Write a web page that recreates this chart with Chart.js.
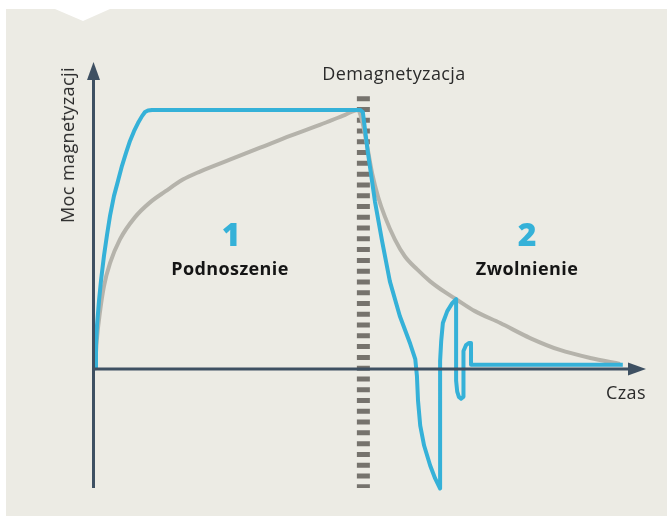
<!DOCTYPE html>
<html>
<head>
<meta charset="utf-8">
<script src="https://cdn.jsdelivr.net/npm/chart.js@4"></script>
<style>
  html, body { margin: 0; padding: 0; background: #fff; }
  #wrap { position: relative; width: 667px; height: 518px; overflow: hidden; }
  #panel {
    position: absolute; left: 6px; top: 9px; width: 661px; height: 507px;
    background: #ecebe4;
    clip-path: polygon(0 0, 49px 0, 77px 12px, 104px 0, 100% 0, 100% 100%, 0 100%);
  }
  canvas { position: absolute; left: 0; top: 0; }
  .lbl { position: absolute; white-space: nowrap; font-family: "Open Sans", sans-serif; color: #2a2a2a; }
  .axis { font-size: 18px; line-height: 18px; letter-spacing: 0.4px; }
  .phase { font-size: 18px; line-height: 18px; font-weight: 700; letter-spacing: 0.4px; color: #151515; transform: translateX(-50%); }
  .num { font-size: 32px; line-height: 32px; font-weight: 800; color: #35b1d8; transform: translateX(-50%); }
</style>
</head>
<body>
<div id="wrap">
  <div id="panel"></div>
  <canvas id="myChart" width="667" height="518"></canvas>
  <div class="lbl axis" style="left:394px; top:64px; transform:translateX(-50%);">Demagnetyzacja</div>
  <div class="lbl axis" style="left:67px; top:145px; transform:translate(-50%,-50%) rotate(-90deg);">Moc magnetyzacji</div>
  <div class="lbl axis" style="right:21px; top:383px;">Czas</div>
  <div class="lbl num" style="left:231px; top:218px;">1</div>
  <div class="lbl phase" style="left:230px; top:259px;">Podnoszenie</div>
  <div class="lbl num" style="left:527px; top:218px;">2</div>
  <div class="lbl phase" style="left:527px; top:259px;">Zwolnienie</div>
</div>
<script>
// magnetization during charge + release (blue), time 0..100, level 0..100
const pulseTime = [0.2, 0.36, 0.54, 0.91, 1.27, 1.81, 2.36, 2.9, 3.62, 4.35, 5.07, 5.8, 6.52, 7.25, 7.97, 8.7, 9.24, 9.78, 10.5,
  48.2, 48.7, 49.6, 50.9, 52.2, 53.6, 55.4, 57.3, 58.2, 58.5, 58.7, 59.1, 59.8, 60.9, 61.8, 62.7,
  62.7, 62.7, 62.9, 63.2, 64.0, 64.9, 65.6, 65.6, 65.8, 66.1, 66.5, 66.9, 66.9, 66.9, 67.0, 67.4, 67.9, 68.3, 68.3, 95.8];
const pulseValue = [0.2, 9, 16.7, 26.4, 34.1, 43.7, 51.8, 59.1, 66.8, 72.6, 78.4, 83.4, 88, 91.8, 94.9, 97.6, 99.2, 99.8, 100,
  100, 99.2, 83.8, 64.6, 49.2, 33.8, 20.4, 9.6, 3.8, -2.7, -12.3, -21.9, -29.6, -37.3, -42.3, -46.2,
  -4.6, 3.1, 10.8, 17.7, 22.3, 25.4, 26.9, -4.6, -8.8, -10.8, -11.5, -10.8, -6.5, 3.1, 6.9, 9.2, 10, 10, 1.6, 1.6];

// slow rise and natural decay (gray)
const curveTime = [0.2, 0.5, 1.1, 1.8, 2.9, 4.7, 7.4, 10.1, 12.9, 16.1, 19.2, 24.6, 30.1, 35.5, 40.9, 45.5, 47.8,
  48.6, 49.5, 50.4, 51.5, 52.7, 54.5, 56.3, 58.5, 60.9, 63.6, 65.6, 69.0, 73.6, 79.0, 84.4, 89.9, 95.3];
const curveValue = [0, 10.8, 22.3, 31.9, 40.8, 50, 58.5, 64.2, 68.5, 73.1, 76.2, 80.8, 85.4, 90, 94.2, 98.1, 100,
  95.4, 85.8, 75.4, 66.2, 58.8, 50, 43.5, 38.5, 33.8, 29.6, 26.9, 22.3, 17.7, 11.9, 7.3, 4.2, 1.9];

// demagnetization marker
const demagTime = [48.8, 48.8];
const demagValue = [105.3, -46];

const axisColor = "#3e5062";

const toPoints = (xs, ys) => xs.map((x, i) => ({ x: x, y: ys[i] }));

// draw arrowed axes over the lines, like the original
const arrowAxes = {
  id: "arrowAxes",
  afterDatasetsDraw(chart) {
    const { ctx, chartArea, scales } = chart;
    const x0 = chartArea.left - 0.5;
    const y0 = scales.y.getPixelForValue(0);
    ctx.save();
    ctx.strokeStyle = axisColor;
    ctx.fillStyle = axisColor;
    ctx.lineWidth = 3;
    ctx.beginPath();
    ctx.moveTo(x0, chartArea.bottom);
    ctx.lineTo(x0, chartArea.top + 14);
    ctx.moveTo(x0, y0);
    ctx.lineTo(chartArea.right - 14, y0);
    ctx.stroke();
    ctx.beginPath();
    ctx.moveTo(x0, chartArea.top);
    ctx.lineTo(x0 - 6.5, chartArea.top + 18);
    ctx.lineTo(x0 + 6.5, chartArea.top + 18);
    ctx.closePath();
    ctx.fill();
    ctx.beginPath();
    ctx.moveTo(chartArea.right, y0);
    ctx.lineTo(chartArea.right - 18, y0 - 6.5);
    ctx.lineTo(chartArea.right - 18, y0 + 6.5);
    ctx.closePath();
    ctx.fill();
    ctx.restore();
  }
};

const ctx = document.getElementById("myChart").getContext("2d");
new Chart(ctx, {
  type: "scatter",
  data: {
    datasets: [
      {
        label: "Magnetyzacja",
        data: toPoints(pulseTime, pulseValue),
        showLine: true,
        borderColor: "#35b1d8",
        borderWidth: 4,
        pointRadius: 0,
        tension: 0,
        borderJoinStyle: "round",
        clip: false,
        order: 0,
      },
      {
        label: "Naturalnie",
        data: toPoints(curveTime, curveValue),
        showLine: true,
        borderColor: "#b5b3ab",
        borderWidth: 4,
        pointRadius: 0,
        cubicInterpolationMode: "monotone",
        clip: false,
        order: 1,
      },
      {
        label: "Demagnetyzacja",
        data: toPoints(demagTime, demagValue),
        showLine: true,
        borderColor: "#76736d",
        borderWidth: 13,
        borderDash: [5, 5.78],
        borderCapStyle: "butt",
        pointRadius: 0,
        clip: false,
        order: 2,
      },
    ],
  },
  options: {
    responsive: false,
    animation: false,
    events: [],
    layout: { padding: { left: 94, right: 21, top: 62, bottom: 30 } },
    plugins: { legend: { display: false }, tooltip: { enabled: false } },
    scales: {
      x: { type: "linear", min: 0, max: 100, display: false },
      y: { type: "linear", min: -46, max: 118.5, display: false },
    },
  },
  plugins: [arrowAxes],
});
</script>
</body>
</html>
